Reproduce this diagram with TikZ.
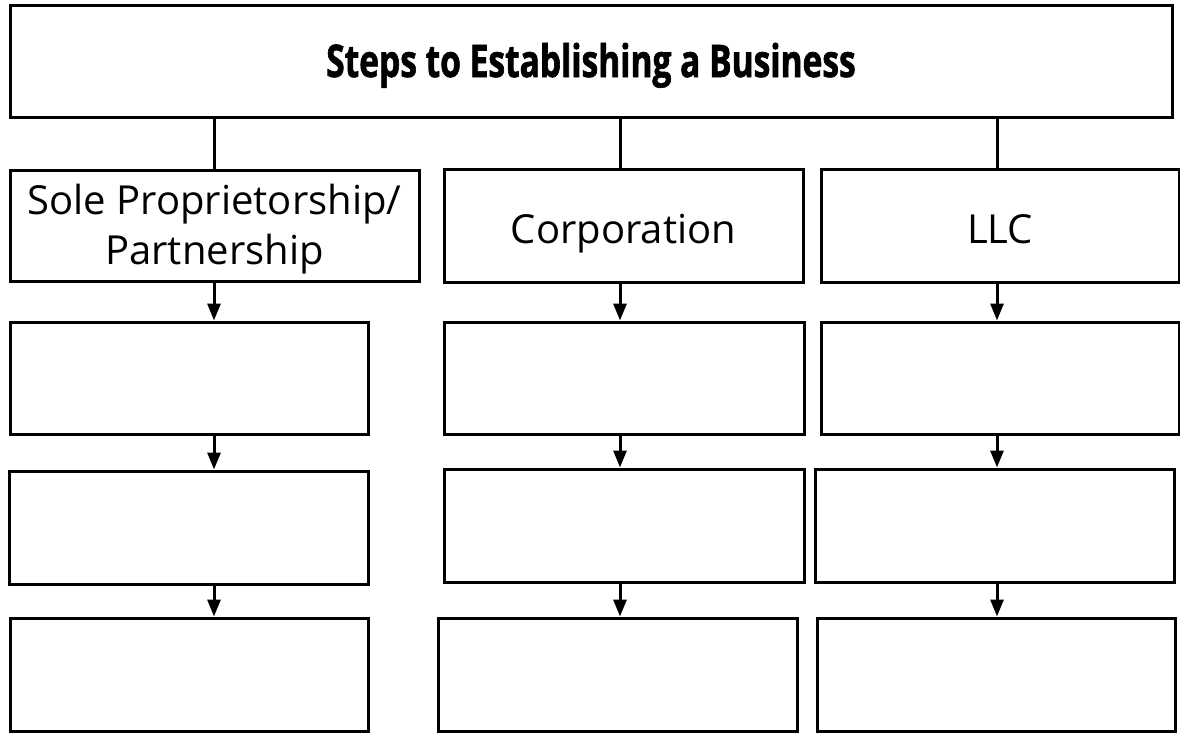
\documentclass[tikz,border=0pt]{standalone}
\usepackage{fontspec}
\setmainfont{Open Sans}
\newfontfamily\titlefont[FakeStretch=0.745,BoldFeatures={FakeBold=1.4}]{Open Sans}
\usetikzlibrary{arrows.meta}
\begin{document}
\begin{tikzpicture}[x=1pt,y=-1pt,
  box/.style={draw, line width=3pt, rectangle, inner sep=0pt, align=center},
  conn/.style={line width=3pt},
  arr/.style={line width=3pt, -{Triangle[length=17pt,width=13pt]}},
  lbl/.style={font=\fontsize{40}{50}\selectfont, text height=35pt, text depth=0pt}
]
\useasboundingbox (0,0) rectangle (1180,732);
% columns
\coordinate (cA) at (214,0);
\coordinate (cB) at (620,0);
\coordinate (cC) at (997,0);
% title
\node[box, minimum width=1162pt, minimum height=112pt, text height=42pt, text depth=10pt] (title) at (591,61)
  {\titlefont\bfseries\fontsize{45}{50}\selectfont Steps to Establishing a Business};
% headers
\node[box, minimum width=409pt, minimum height=111pt,
  label={[font=\fontsize{40}{50}\selectfont, align=center, yshift=-4pt, inner sep=0pt]center:{Sole Proprietorship/\\Partnership}}] (sole) at (214.5,225.5) {};
\node[box, lbl, minimum width=359pt, minimum height=113pt] (corp) at (623.5,225.5) {Corporation};
\node[box, lbl, minimum width=358pt, minimum height=113pt] (llc) at (1000,225.5) {LLC};
% left column
\node[box, minimum width=358pt, minimum height=112pt] (a1) at (189,378) {};
\node[box, minimum width=359pt, minimum height=113pt] (a2) at (188.5,527.5) {};
\node[box, minimum width=358pt, minimum height=113pt] (a3) at (189,674.5) {};
% middle column
\node[box, minimum width=360pt, minimum height=112pt] (b1) at (624,378) {};
\node[box, minimum width=360pt, minimum height=113pt] (b2) at (624,525.5) {};
\node[box, minimum width=359pt, minimum height=113pt] (b3) at (617.5,674.5) {};
% right column
\node[box, minimum width=358pt, minimum height=112pt] (d1) at (1000,378) {};
\node[box, minimum width=359pt, minimum height=113pt] (d2) at (994.5,525.5) {};
\node[box, minimum width=358pt, minimum height=113pt] (d3) at (996,674.5) {};
% connectors from title
\draw[conn] (title.south -| cA) -- (sole.north -| cA);
\draw[conn] (title.south -| cB) -- (corp.north -| cB);
\draw[conn] (title.south -| cC) -- (llc.north -| cC);
% arrows
\draw[arr] (sole.south -| cA) -- (a1.north -| cA);
\draw[arr] (a1.south -| cA) -- (a2.north -| cA);
\draw[arr] (a2.south -| cA) -- (a3.north -| cA);
\draw[arr] (corp.south -| cB) -- (b1.north -| cB);
\draw[arr] (b1.south -| cB) -- (b2.north -| cB);
\draw[arr] (b2.south -| cB) -- (b3.north -| cB);
\draw[arr] (llc.south -| cC) -- (d1.north -| cC);
\draw[arr] (d1.south -| cC) -- (d2.north -| cC);
\draw[arr] (d2.south -| cC) -- (d3.north -| cC);
\end{tikzpicture}
\end{document}
